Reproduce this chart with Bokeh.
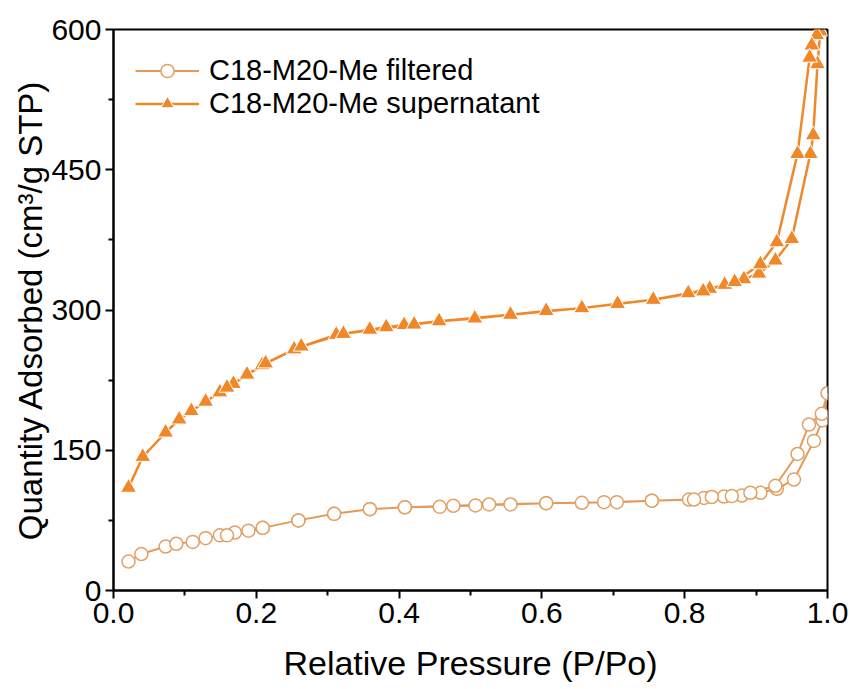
from bokeh.plotting import figure
from bokeh.models import Range1d, Legend, LegendItem, FixedTicker, Title
from bokeh.embed import file_html
from bokeh.resources import INLINE

# C18-M20-Me filtered (circles): adsorption then desorption
filt_ads_x = [0.021, 0.039, 0.073, 0.088, 0.111, 0.129, 0.149, 0.170, 0.189, 0.209, 0.259, 0.309,
              0.359, 0.408, 0.457, 0.507, 0.556, 0.606, 0.656, 0.705, 0.754, 0.806, 0.827, 0.855,
              0.880, 0.906, 0.929, 0.953, 0.981, 0.993, 1.0]
filt_ads_y = [31, 39, 47, 50, 52, 56, 59, 62, 64, 67, 75, 82,
              87, 89, 89.5, 91, 92, 93.4, 93.8, 94.5, 96, 97.3, 99, 100.5,
              101.6, 104.5, 108.8, 118.7, 160, 182, 211]
filt_des_x = [0.992, 0.974, 0.958, 0.927, 0.892, 0.866, 0.838, 0.813, 0.754, 0.687, 0.606, 0.526,
              0.476, 0.408, 0.359, 0.309, 0.259, 0.209, 0.159]
filt_des_y = [189, 177.5, 146, 112, 104.5, 101, 100, 97.3, 96, 94.5, 93.4, 92,
              90.6, 89, 87, 82, 75, 67, 59]

# C18-M20-Me supernatant (triangles): adsorption then desorption
sup_ads_x = [0.021, 0.041, 0.073, 0.092, 0.109, 0.129, 0.149, 0.168, 0.187, 0.208, 0.253, 0.312,
             0.359, 0.382, 0.407, 0.456, 0.506, 0.556, 0.606, 0.656, 0.706, 0.756, 0.805, 0.835,
             0.856, 0.883, 0.904, 0.927, 0.950, 0.976, 0.980, 0.986, 0.990]
sup_ads_y = [110, 143, 169, 183, 192, 202, 212, 221, 231, 241, 258, 273.5,
             279, 281.6, 284, 288, 291, 295, 299, 302, 306.6, 311, 318, 322.7,
             327, 333, 339, 353, 376, 467, 487, 563, 598]
sup_des_x = [0.985, 0.978, 0.975, 0.958, 0.929, 0.906, 0.870, 0.826, 0.756, 0.656, 0.556, 0.456,
             0.421, 0.322, 0.263, 0.213, 0.159]
sup_des_y = [594, 583, 570, 467, 372.5, 349, 330, 320, 311, 302, 295, 288,
             284.5, 274.5, 261, 243, 217]

x_ticks = [0.0, 0.2, 0.4, 0.6, 0.8, 1.0]
y_ticks = [0, 150, 300, 450, 600]
x_title = "Relative Pressure (P/Po)"
y_title = "Quantity Adsorbed (cm³/g STP)"

FONT = "Liberation Sans"
ORANGE = "#F0882A"
TAN_LINE = "#E69A58"
TAN_MARK = "#E3A065"

p = figure(width=851, height=686, output_backend="svg", toolbar_location=None,
           x_range=Range1d(0, 1.0), y_range=Range1d(0, 600),
           min_border_left=113, min_border_right=24, min_border_top=29, min_border_bottom=96)
p.xgrid.visible = False
p.ygrid.visible = False
p.outline_line_color = "black"
p.outline_line_width = 2
p.background_fill_color = "white"
p.border_fill_color = "white"

fx = filt_ads_x + filt_des_x
fy = filt_ads_y + filt_des_y
sx = sup_ads_x + sup_des_x
sy = sup_ads_y + sup_des_y

l1 = p.line(fx, fy, line_color=TAN_LINE, line_width=2)
m1 = p.scatter(fx, fy, marker="circle", size=13, fill_color="white", line_color=TAN_MARK, line_width=1.5)
l2 = p.line(sx, sy, line_color=ORANGE, line_width=2.5)
m2 = p.scatter(sx, sy, marker="triangle", size=16, fill_color=ORANGE, line_color="white", line_width=1)

legend = Legend(items=[LegendItem(label="C18-M20-Me filtered", renderers=[l1, m1]),
                       LegendItem(label="C18-M20-Me supernatant", renderers=[l2, m2])],
                location=(22, 470), border_line_color=None, background_fill_alpha=0,
                padding=0, margin=0, spacing=0, glyph_width=64, glyph_height=33,
                label_text_font=FONT, label_text_font_size="29px", label_standoff=10,
                label_text_color="black", label_height=33)
p.add_layout(legend, "center")

for ax in (p.xaxis[0], p.yaxis[0]):
    ax.axis_line_width = 2
    ax.major_tick_line_width = 2
    ax.minor_tick_line_width = 2
    ax.major_tick_in = 0
    ax.major_tick_out = 8
    ax.minor_tick_in = 0
    ax.minor_tick_out = 5
    ax.major_label_text_font = FONT
    ax.major_label_text_font_size = "30px"
    ax.major_label_text_color = "black"
    ax.axis_label_text_font = FONT
    ax.axis_label_text_font_style = "normal"
    ax.axis_label_text_color = "black"

p.xaxis[0].axis_label_text_font_size = "34px"
p.xaxis[0].ticker = FixedTicker(ticks=x_ticks, minor_ticks=[0.1, 0.3, 0.5, 0.7, 0.9])
p.yaxis[0].ticker = FixedTicker(ticks=y_ticks, minor_ticks=[75, 225, 375, 525])
p.xaxis[0].major_label_overrides = {t: f"{t:.1f}" for t in x_ticks}
p.xaxis[0].axis_label = x_title
p.xaxis[0].major_label_standoff = 4
p.xaxis[0].axis_label_standoff = 18
p.yaxis[0].major_label_standoff = 4

ytitle = Title(text=y_title, align="center", offset=0, standoff=0,
               text_font=FONT, text_font_size="33px", text_font_style="normal",
               text_color="black")
p.add_layout(ytitle, "left")

open("out.html", "w").write(file_html(p, INLINE))
